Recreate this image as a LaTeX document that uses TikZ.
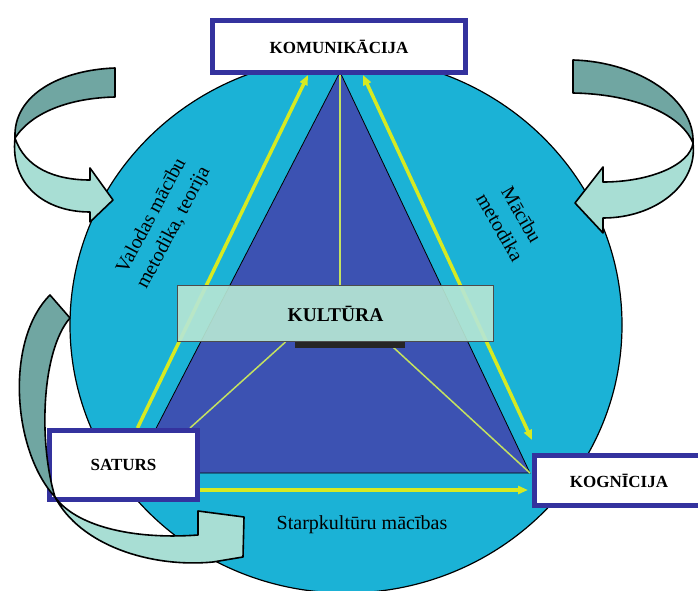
\documentclass[tikz,border=0pt]{standalone}
\usepackage{fontspec}
\setmainfont{Liberation Serif}
\usepackage{xcolor}
\usepackage{tikz}
\usetikzlibrary{arrows.meta,positioning,backgrounds,calc}
\definecolor{sea}{RGB}{27,178,214}
\definecolor{deep}{RGB}{60,82,178}
\definecolor{frame}{RGB}{52,50,158}
\definecolor{lime}{RGB}{214,234,34}
\definecolor{limesoft}{RGB}{196,226,96}
\definecolor{mint}{RGB}{182,230,212}
\definecolor{tealdark}{RGB}{112,166,162}
\definecolor{teallight}{RGB}{168,222,212}

\begin{document}
\begin{tikzpicture}[x=1pt,y=-1pt,
  lbox/.style={draw=frame,fill=white,line width=5pt,inner sep=0pt,
               font=\fontsize{17}{19}\selectfont\bfseries},
  yarr/.style={-{Triangle[length=10pt,width=8pt]},draw=lime,line width=3.5pt},
  hair/.style={draw=limesoft,line width=1.5pt},
  ribbon/.style={draw=black,line width=1.6pt,line join=round},
  note/.style={font=\fontsize{20}{25}\selectfont,align=center}
]
\useasboundingbox (0,0) rectangle (698,591);
% corners of the triangle
\coordinate (tA) at (340,72);
\coordinate (tL) at (133,473);
\coordinate (tR) at (530,473);

\node[lbox,minimum width=253pt,minimum height=52pt] (komun) at (339,46.5) {KOMUNIKĀCIJA};
\node[lbox,minimum width=148pt,minimum height=69pt] (saturs) at (123.5,465) {SATURS};
\node[lbox,minimum width=169pt,minimum height=50pt] (kogn) at (619,480.5) {KOGNĪCIJA};
\node[draw=black!70,fill=mint,fill opacity=.92,text opacity=1,line width=1pt,
      minimum width=316pt,minimum height=56pt,
      font=\fontsize{19.5}{21}\selectfont\bfseries] (kult) at (335.5,313.5) {KULTŪRA};

\node[note,rotate=62] (valodas) at (163,222) {Valodas mācību\\metodika, teorija};
\node[note,rotate=-60] (metodika) at (511,221) {Mācību\\metodika};
\node[note] (starp) at (362,525) {Starpkultūru mācības};

\begin{scope}[on background layer]
\fill[white] (0,0) rectangle (698,591);
\draw[fill=sea,line width=1.2pt] (346,325) ellipse [x radius=276,y radius=268];
\draw[fill=deep,line width=.8pt] (tA) -- (tL) -- (tR) -- cycle;
\draw[hair] (tA) -- (tA |- kult.north);
\draw[hair] ([xshift=-50pt]kult.south) -- ([xshift=-10pt]saturs.north east);
\draw[hair] ([xshift=52pt]kult.south) -- (tR);
\draw[yarr] ([xshift=14pt]saturs.north) -- ([xshift=-31pt]komun.south);
\draw[yarr,{Triangle[length=10pt,width=8pt]}-{Triangle[length=10pt,width=8pt]}]
  ([xshift=24pt]komun.south) -- ([yshift=13pt]kogn.north west);
\draw[yarr,shorten >=4pt] ([yshift=-25pt]saturs.east) -- ([yshift=-9.5pt]kogn.west);
\fill[black!85] (295,341) rectangle (405,348);
\end{scope}

% curved arrows
\filldraw[ribbon,fill=tealdark] (15,138) .. controls (13,95) and (60,70) .. (115,68)
  -- (115,97) .. controls (70,98) and (32,112) .. (15,138) -- cycle;
\filldraw[ribbon,fill=teallight] (15,138) .. controls (25,168) and (55,180) .. (90,180)
  -- (90,168) -- (113,200) -- (90,222) -- (90,212) .. controls (45,212) and (10,185) .. (15,138) -- cycle;

\filldraw[ribbon,fill=tealdark] (693,143) .. controls (695,100) and (640,62) .. (573,60)
  -- (573,93) .. controls (630,94) and (680,112) .. (693,143) -- cycle;
\filldraw[ribbon,fill=teallight] (693,143) .. controls (690,165) and (650,182) .. (603,182)
  -- (603,167) -- (575,203) -- (603,233) -- (603,218) .. controls (655,218) and (698,185) .. (693,143) -- cycle;

\filldraw[ribbon,fill=tealdark] (55,497) .. controls (12,450) and (5,340) .. (50,295)
  -- (70,318) .. controls (42,350) and (38,440) .. (55,497) -- cycle;
\filldraw[ribbon,fill=teallight] (55,497) .. controls (75,525) and (130,540) .. (198,535)
  -- (198,511) -- (244,517) -- (243,557) -- (213,562) .. controls (150,568) and (80,545) .. (55,497) -- cycle;
\end{tikzpicture}
\end{document}
